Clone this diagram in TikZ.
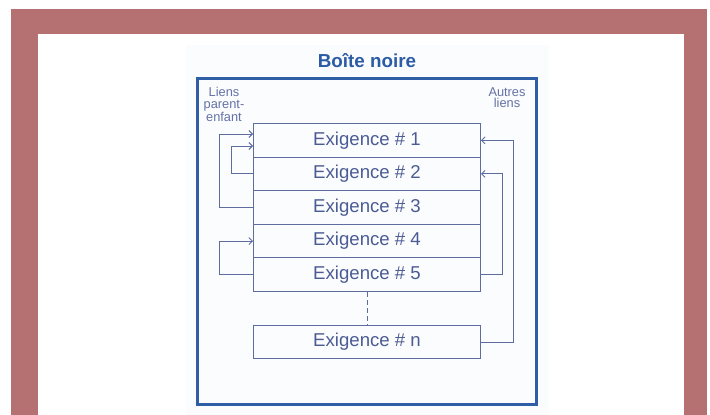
\documentclass[tikz,border=0pt]{standalone}
\usepackage{fontspec}
\setmainfont{Liberation Sans}
\usetikzlibrary{arrows.meta}
\definecolor{frame}{RGB}{181,112,114}
\definecolor{outerblue}{RGB}{46,95,166}
\definecolor{titleblue}{RGB}{43,92,165}
\definecolor{boxline}{RGB}{95,108,160}
\definecolor{boxtext}{RGB}{75,91,148}
\definecolor{lbltext}{RGB}{100,114,165}
\definecolor{panel}{RGB}{251,252,253}
\tikzset{
  req/.style={draw=boxline, line width=1pt, minimum width=227pt, minimum height=33.6pt,
    inner sep=0pt, text=boxtext, font=\fontsize{18.6}{20}\selectfont},
  conn/.style={draw=boxline, line width=0.9pt},
  tip/.style={-{Straight Barb[length=3.5pt,width=7pt]}},
  lbl/.style={text=lbltext, align=center, inner sep=0pt, anchor=north,
    font=\fontsize{12.8}{11.8}\selectfont}
}
\begin{document}
\begin{tikzpicture}[x=1pt,y=-1pt]
\useasboundingbox (0,0) rectangle (710,415);
\fill[white] (0,0) rectangle (710,415);
\fill[frame] (11,9) rectangle (707,415);
\fill[white] (38,34) rectangle (684,415);
\fill[panel] (186,45) rectangle (549,415);
\draw[outerblue, line width=3pt] (197,78) rectangle (536,404);
\node[text=titleblue, font=\bfseries\fontsize{18.8}{20}\selectfont] (title) at (367,61) {Boîte noire};
\node[lbl] (lp) at (224,87) {Liens\\parent-\\enfant};
\node[lbl] (al) at (507,87) {Autres\\liens};
\node[req] (e1) at (367,140.3) {Exigence \# 1};
\node[req] (e2) at (367,173.9) {Exigence \# 2};
\node[req] (e3) at (367,207.5) {Exigence \# 3};
\node[req] (e4) at (367,241.1) {Exigence \# 4};
\node[req] (e5) at (367,274.7) {Exigence \# 5};
\node[req] (en) at (367,342) {Exigence \# n};
\draw[conn, dash pattern=on 5pt off 3pt] (e5.south) -- (en.north);
\draw[conn, tip] (e3.west) -- (219.5,207.5) -- (219.5,134) -- (e1.west |- 0,134);
\draw[conn, tip] (e2.west) -- (231,173.9) -- (231,146) -- (e1.west |- 0,146);
\draw[conn, tip] (e5.west) -- (219.5,274.7) -- (219.5,241.1) -- (e4.west);
\draw[conn, tip] (en.east) -- (513,342) -- (513,140.3) -- (e1.east);
\draw[conn, tip] (e5.east) -- (502.5,274.7) -- (502.5,173.9) -- (e2.east);
\end{tikzpicture}
\end{document}
